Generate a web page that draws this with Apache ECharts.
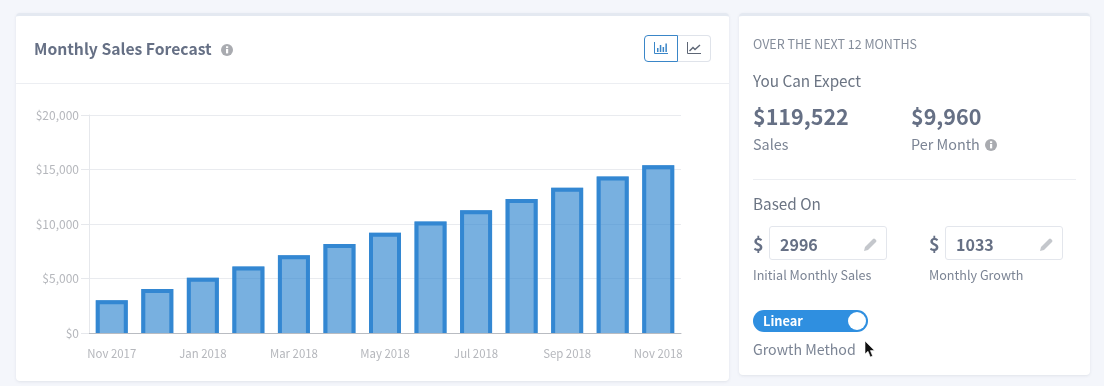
<!DOCTYPE html>
<html><head><meta charset="utf-8">
<script src="https://cdn.jsdelivr.net/npm/echarts@6/dist/echarts.min.js"></script>
<style>
html,body{margin:0;padding:0;background:#f4f6fb;width:1104px;height:386px;overflow:hidden;font-family:"Noto Sans CJK SC","Noto Sans",sans-serif;color:#7b8494}
.card{position:absolute;background:#fff;border-top:3px solid #e4e9f1;border-radius:4px;box-shadow:0 1px 3px rgba(60,70,90,.10);box-sizing:border-box}
.t{position:absolute;white-space:nowrap;line-height:1;transform:translateY(-50%)}
.line{position:absolute;height:1px;background:#eceef2}
.input{position:absolute;top:226px;width:118px;height:34px;box-sizing:border-box;border:1.5px solid #e3e6ec;border-radius:3px;background:#fff}
svg{position:absolute;overflow:visible}
#chart{position:absolute;left:0;top:0;width:1104px;height:386px}
</style></head><body>
<div class="card" style="left:16px;top:13px;width:713px;height:368px"></div>
<div class="card" style="left:739px;top:13px;width:351px;height:362px"></div>
<div class="line" style="left:16px;top:83px;width:713px"></div>
<div id="chart"></div>

<svg style="left:221px;top:44px" width="12" height="12" viewBox="0 0 12 12"><circle cx="6" cy="6" r="6" fill="#a9abb0"/><rect x="5" y="5" width="2.2" height="4.4" fill="#fff"/><rect x="5" y="2.3" width="2.2" height="1.8" fill="#fff"/></svg>

<div style="position:absolute;left:678px;top:35px;width:33px;height:27px;box-sizing:border-box;border:1px solid #dfe3ea;border-left:none;border-radius:0 4px 4px 0"></div>
<div style="position:absolute;left:644px;top:35px;width:34px;height:27px;box-sizing:border-box;border:1px solid #3a86c8;border-radius:4px 0 0 4px"></div>
<svg style="left:654px;top:42px" width="14" height="12" viewBox="0 0 14 12" fill="none"><path d="M.5 0V11.5H14" stroke="#3a86c8"/><path d="M3 6h1.5v4H3zM5.8 3h1.5v7H5.8zM8.6 5h1.5v5H8.6zM11.4 1.5h1.5V10h-1.5z" fill="#3a86c8"/></svg>
<svg style="left:687px;top:42px" width="14" height="12" viewBox="0 0 14 12" fill="none"><path d="M.5 0V11.5H14" stroke="#5d6675"/><path d="M2.5 9 6 5.5 8 7.5 13 3" stroke="#5d6675" stroke-width="1.4"/></svg>

<div class="t" style="left:753px;top:44px;font-size:12.5px;color:#858d9b">OVER THE NEXT 12 MONTHS</div>
<div class="t" style="left:753px;top:81px;font-size:15.3px;color:#6b7483">You Can Expect</div>
<div class="t" style="left:753px;top:116px;font-size:21.5px;font-weight:700;color:#667085">$119,522</div>
<div class="t" style="left:911px;top:116px;font-size:21.5px;font-weight:700;color:#667085">$9,960</div>
<div class="t" style="left:753px;top:144px;font-size:14.4px">Sales</div>
<div class="t" style="left:911px;top:144px;font-size:14.4px">Per Month</div>
<svg style="left:985px;top:139px" width="12" height="12" viewBox="0 0 12 12"><circle cx="6" cy="6" r="6" fill="#a9abb0"/><rect x="5" y="5" width="2.2" height="4.4" fill="#fff"/><rect x="5" y="2.3" width="2.2" height="1.8" fill="#fff"/></svg>
<div class="line" style="left:753px;top:179px;width:323px"></div>
<div class="t" style="left:753px;top:204px;font-size:15.3px;color:#6b7483">Based On</div>

<div class="t" style="left:753px;top:243px;font-size:18px;font-weight:700;color:#667085">$</div>
<div class="input" style="left:769px"></div>
<div class="t" style="left:780px;top:244px;font-size:16px;font-weight:700;color:#667085">2996</div>
<svg style="left:864px;top:238px" width="13" height="13" viewBox="0 0 13 13"><path d="M0 13 1 9 9 1q1-1 2 0l1 1q1 1 0 2L4 12z" fill="#c4c7cc"/></svg>

<div class="t" style="left:929px;top:243px;font-size:18px;font-weight:700;color:#667085">$</div>
<div class="input" style="left:945px"></div>
<div class="t" style="left:956px;top:244px;font-size:16px;font-weight:700;color:#667085">1033</div>
<svg style="left:1040px;top:238px" width="13" height="13" viewBox="0 0 13 13"><path d="M0 13 1 9 9 1q1-1 2 0l1 1q1 1 0 2L4 12z" fill="#c4c7cc"/></svg>

<div class="t" style="left:753px;top:275px;font-size:12.6px">Initial Monthly Sales</div>
<div class="t" style="left:929px;top:275px;font-size:12.6px">Monthly Growth</div>

<div style="position:absolute;left:753px;top:310px;width:115px;height:22px;border-radius:11px;background:#2f8fe0"></div>
<div style="position:absolute;left:848px;top:312px;width:18px;height:18px;border-radius:50%;background:#fff"></div>
<div class="t" style="left:763px;top:321px;font-size:12.8px;font-weight:700;color:#fff">Linear</div>
<div class="t" style="left:753px;top:349px;font-size:14.2px">Growth Method</div>
<svg style="left:865px;top:341px" width="11" height="17" viewBox="0 0 11 17"><path d="M0 0V13L3 10.3 5.3 16 7.6 15 5.4 9.6H9.5z" fill="#111" stroke="#fff" stroke-width=".6"/></svg>

<script>
const categories = ['Nov 2017','Dec 2017','Jan 2018','Feb 2018','Mar 2018','Apr 2018','May 2018','Jun 2018','Jul 2018','Aug 2018','Sep 2018','Oct 2018','Nov 2018'];
const sales = [2996,4029,5062,6095,7128,8161,9194,10227,11260,12293,13326,14359,15392];
const yTicks = [0,5000,10000,15000,20000];

const font = '"Noto Sans CJK SC","Noto Sans",sans-serif';
const chart = echarts.init(document.getElementById('chart'), null, {renderer:'canvas'});
chart.setOption({
  animation:false,
  backgroundColor:'transparent',
  title:{text:'Monthly Sales Forecast',left:34,top:39,padding:0,itemGap:0,
    textStyle:{fontFamily:font,fontSize:15.7,fontWeight:600,color:'#667085',lineHeight:20}},
  grid:{left:89,right:423,top:115,bottom:53},
  xAxis:{type:'category',data:categories,
    axisLine:{show:true,lineStyle:{color:'#b9bcc2',width:1}},
    axisTick:{show:false},
    axisLabel:{interval:1,color:'#b5b7bc',fontFamily:font,fontSize:11.4,margin:15},
    splitLine:{show:false}},
  yAxis:{type:'value',min:yTicks[0],max:yTicks[yTicks.length-1],interval:5000,
    axisLine:{show:true,onZero:false,lineStyle:{color:'#e6e8ec'}},
    axisTick:{show:true,length:8,lineStyle:{color:'#e6e8ec'}},
    axisLabel:{color:'#b5b7bc',fontFamily:font,fontSize:12,margin:10,
      formatter:v=>'$'+v.toLocaleString('en-US')},
    splitLine:{show:true,lineStyle:{color:'#e9ebef',width:1}}},
  series:[
    {type:'bar',data:sales,barWidth:32,itemStyle:{color:'rgba(47,133,208,0.65)'},z:2},
    {type:'custom',data:sales.map((v,i)=>[i,v]),z:3,clip:false,encode:{x:0,y:1},
     renderItem:(params,api)=>{
       const p=api.coord([api.value(0),api.value(1)]);
       const base=api.coord([api.value(0),0]);
       const half=16,inset=2;
       return {type:'polyline',
         shape:{points:[[p[0]-half+inset,base[1]],[p[0]-half+inset,p[1]+inset],[p[0]+half-inset,p[1]+inset],[p[0]+half-inset,base[1]]]},
         style:{stroke:'#3387d2',lineWidth:4,fill:null,lineJoin:'miter'}};
     }
    }
  ]
});
</script>
</body></html>
